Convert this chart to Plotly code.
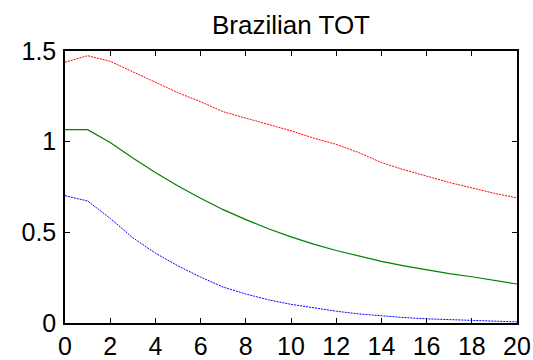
import plotly.graph_objects as go

# Impulse response horizon (quarters)
horizon = list(range(21))

# Upper band, point estimate and lower band
upper = [1.438, 1.474, 1.443, 1.385, 1.325, 1.27, 1.22, 1.165, 1.13, 1.095, 1.06,
         1.02, 0.985, 0.94, 0.885, 0.845, 0.81, 0.775, 0.745, 0.715, 0.69]
median = [1.066, 1.066, 0.995, 0.91, 0.83, 0.755, 0.688, 0.625, 0.57, 0.52, 0.475,
          0.435, 0.40, 0.368, 0.34, 0.315, 0.292, 0.272, 0.255, 0.235, 0.215]
lower = [0.702, 0.673, 0.577, 0.47, 0.385, 0.315, 0.253, 0.198, 0.16, 0.128, 0.103,
         0.082, 0.065, 0.05, 0.038, 0.03, 0.023, 0.018, 0.013, 0.009, 0.006]

x_ticks = list(range(0, 21, 2))
y_ticks = [0, 0.5, 1, 1.5]
y_tick_text = ["0", "0.5", "1", "1.5"]

fig = go.Figure()
fig.add_trace(go.Scatter(x=horizon, y=upper, mode="lines",
                         line=dict(color="#ff0000", width=1, dash="2px,1px")))
fig.add_trace(go.Scatter(x=horizon, y=median, mode="lines",
                         line=dict(color="#008000", width=1.2)))
fig.add_trace(go.Scatter(x=horizon, y=lower, mode="lines",
                         line=dict(color="#0000ff", width=1, dash="2px,1px")))

axis_font = dict(family="Liberation Sans, Arial, sans-serif", size=25, color="black")

fig.update_layout(
    width=533, height=360,
    margin=dict(l=65, r=16, t=51, b=37, pad=0),
    paper_bgcolor="white", plot_bgcolor="white",
    showlegend=False,
    title=dict(text="Brazilian TOT", x=0.5, xanchor="center", xref="paper",
               y=1, yref="paper", yanchor="bottom", pad=dict(b=17),
               font=dict(family="Liberation Sans, Arial, sans-serif", size=26, color="black")),
    xaxis=dict(range=[0, 20], tickvals=x_ticks, ticks="inside", ticklen=5, tickwidth=1,
               tickcolor="black", showline=True, linecolor="black", linewidth=1.5,
               mirror="ticks", showgrid=False, zeroline=False, tickfont=axis_font,
               ticklabelstandoff=0, automargin=False),
    yaxis=dict(range=[0, 1.5], tickvals=y_ticks, ticktext=y_tick_text, ticks="inside",
               ticklen=5, tickwidth=1, tickcolor="black", showline=True, linecolor="black",
               linewidth=1.5, mirror="ticks", showgrid=False, zeroline=False,
               tickfont=axis_font, ticklabelstandoff=2, automargin=False),
)

fig.write_html("out.html")
